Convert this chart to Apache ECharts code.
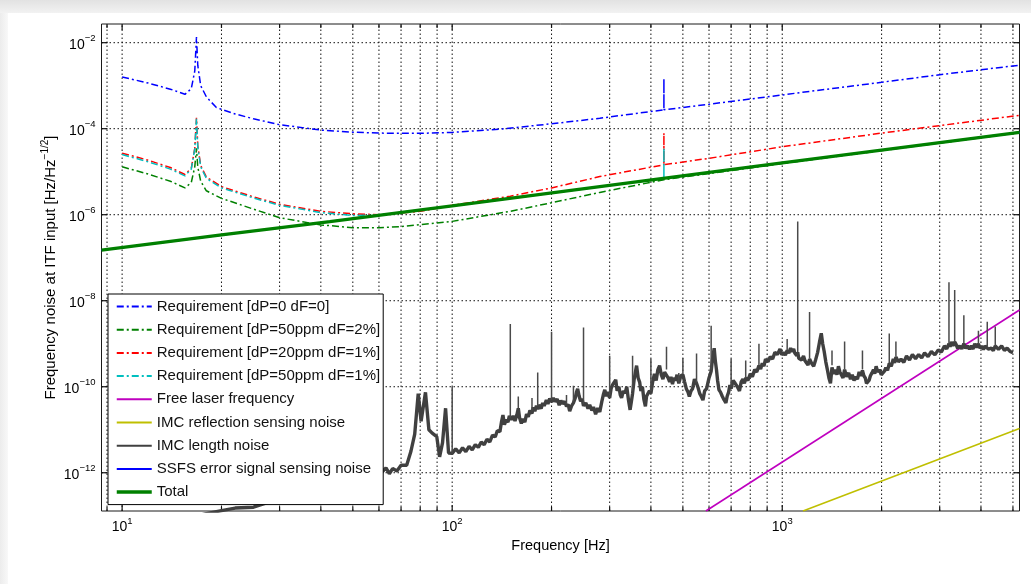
<!DOCTYPE html>
<html><head><meta charset="utf-8">
<script src="https://cdn.jsdelivr.net/npm/echarts@6/dist/echarts.min.js"></script>
<style>html,body{margin:0;padding:0;background:#fff}#c{width:1031px;height:584px}</style>
</head><body><div id="c"></div>
<script>
// ---------- data (frequency [Hz], noise [Hz/Hz^-1/2]) ----------
const xTickValues = [9,10,20,30,40,50,60,70,80,90,100,200,300,400,500,600,700,800,900,1000,2000,3000,4000,5000];
const xMajorTicks = [10,100,1000];
const yTickValues = [1e-12,1e-10,1e-8,1e-6,1e-4,1e-2];

const reqA = [[10,1.6e-3],[12,1.15e-3],[14,8.3e-4],[15.5,6.3e-4],[16.2,8.5e-4],[16.6,2.2e-3],[16.8,1.35e-2],[16.95,3e-3],[17.3,1.0e-3],[18,5.5e-4],[19.3,3.1e-4],[22,2.2e-4],[25,1.7e-4],[30,1.24e-4],[40,9.3e-5],[50,8.3e-5],[60,7.9e-5],[80,7.8e-5],[100,8.2e-5],[140,9.8e-5],[200,1.3e-4],[280,1.75e-4],[438,2.75e-4],[438,1.45e-3],[438,2.75e-4],[600,3.7e-4],[1000,6.1e-4],[2000,1.2e-3],[3000,1.8e-3],[5234,3.0e-3]];
const reqB = [[10,1.3e-5],[12,8.8e-6],[14,6e-6],[15.5,4.2e-6],[16.2,5.6e-6],[16.6,1.3e-5],[16.8,3.5e-5],[16.95,1.3e-5],[17.3,6e-6],[18,3.6e-6],[20,2.4e-6],[25,1.35e-6],[30,8.5e-7],[40,5.8e-7],[50,5e-7],[60,5e-7],[70,5.3e-7],[100,7e-7],[150,1.2e-6],[200,1.9e-6],[280,3.3e-6],[438,6.5e-6],[1000,1.55e-5],[5234,8.1e-5]];
const reqC = [[10,2.7e-5],[12,1.85e-5],[14,1.25e-5],[15.5,8.6e-6],[16.2,1.2e-5],[16.6,3.5e-5],[16.8,1.8e-4],[16.95,4e-5],[17.3,1.4e-5],[18,7.5e-6],[20,4.5e-6],[25,2.6e-6],[30,1.75e-6],[40,1.2e-6],[50,1.05e-6],[60,1.0e-6],[80,1.2e-6],[100,1.65e-6],[150,2.7e-6],[200,4.2e-6],[280,7.7e-6],[438,1.45e-5],[438,7.9e-5],[438,1.45e-5],[600,2.05e-5],[1000,3.8e-5],[2000,7.9e-5],[5234,2.05e-4]];
const reqD = [[10,2.5e-5],[12,1.7e-5],[14,1.15e-5],[15.5,8e-6],[16.2,1.15e-5],[16.6,3.4e-5],[16.8,1.7e-4],[16.95,3.8e-5],[17.3,1.3e-5],[18,7e-6],[20,4.2e-6],[25,2.45e-6],[30,1.65e-6],[40,1.12e-6],[50,9.6e-7],[60,9.8e-7],[80,1.3e-6],[100,1.6e-6],[200,3.2e-6],[438,7e-6],[438,3.6e-5],[438,7e-6],[1000,1.6e-5],[5234,8.3e-5]];
const freeLaser = [[587,1.29e-13],[5234,6.1e-9]];
const imcReflection = [[1156,1.29e-13],[5234,1.07e-11]];
const imcLength = [[8.66,5.01e-14],[12,6.31e-14],[15,7.94e-14],[18,1.12e-13],[20,1.32e-13],[22,1.51e-13],[25,1.58e-13],[30,2.51e-13],[35,3.55e-13],[40,4.47e-13],[45,5.01e-13],[50,6.31e-13],[55,7.94e-13],[58,8.32e-13],[61,1.0e-12],[63,1.3e-12],[64.5,9.5e-13],[66,1.25e-12],[68,1.1e-12],[70,1.5e-12],[72.8,1.5e-12],[75,3.16e-12],[77,7.94e-12],[78.9,6.92e-11],[80.5,1.58e-11],[83,7.41e-11],[85,1.0e-11],[87,8.32e-12],[89.8,6.92e-12],[91.6,2.34e-12],[93.5,5.01e-12],[95.5,3.16e-11],[97.5,2.88e-12],
[100,2.82e-12],[102.5,3.6e-12],[105,2.9e-12],[107.5,3.8e-12],[110,3.1e-12],[112.5,4.1e-12],[115,3.4e-12],[117.5,4.5e-12],[120,3.9e-12],[122.5,5.2e-12],[125,4.5e-12],[127.5,6e-12],[130,5.2e-12],[132.5,7.5e-12],[135,6.8e-12],[137,9.5e-12],[139.5,9e-12],[141,1.5e-11],[142.5,2.19e-11],[144,1.3e-11],[145.5,1.7e-11],[147.6,1.5e-11],[149,2.1e-11],[151,1.7e-11],[153,2.1e-11],[155,1.6e-11],[157,2.2e-11],[158.6,3.16e-11],[160,1.9e-11],[162,1.4e-11],[164,1.8e-11],[166,1.5e-11],[168,2.3e-11],[170,2.0e-11],[172,2.8e-11],[174.5,2.4e-11],[176,3.3e-11],[178,2.7e-11],[180,3.6e-11],[181.6,3.0e-11],[183,3.8e-11],[186,3.1e-11],[188,4.2e-11],[190,3.6e-11],[192.9,4.9e-11],[195,4.0e-11],[197.5,5.3e-11],[200,4.4e-11],[202.5,5.5e-11],[205,4.5e-11],[208,5.2e-11],[211,3.7e-11],[213.5,4.8e-11],[216,4.0e-11],[219,4.6e-11],[222,3.5e-11],[224.5,3.9e-11],[227,2.7e-11],[230,3.6e-11],[233,4.2e-11],[236,5.5e-11],[238,7.5e-11],[240,8.9e-11],[242.5,6e-11],[245,4.6e-11],[247.5,5.2e-11],[250,3.6e-11],[254,4.2e-11],[258,3.1e-11],[261,3.8e-11],[265,2.8e-11],[268,3.4e-11],[272,2.3e-11],[276,3.2e-11],[280,2.6e-11],[284,4.5e-11],[287,6.5e-11],[290,8.5e-11],[293,6e-11],[296,7.5e-11],[300,5.5e-11],[303,9e-11],[306,1.1e-10],[310,1.2e-10],[313,1.45e-10],[316,8e-11],[320,1.0e-10],[323,6.5e-11],[326,5.5e-11],[330,8e-11],[334,7e-11],[338,1.0e-10],[342,5e-11],[346,2.9e-11],[349,4.5e-11],[352,7e-11],[356,1.5e-10],[359,2.2e-10],[362,3.1e-10],[366,1.6e-10],[370,1.26e-10],[373,8e-11],[377,1.0e-10],[381,5e-11],[385,3.5e-11],[388,6e-11],[392,5.5e-11],[396,8e-11],[400,7e-11],[405,1.3e-10],[410,2.0e-10],[415,1.4e-10],[420,2.5e-10],[425,3.1e-10],[430,1.9e-10],[435,1.5e-10],[440,2.2e-10],[446,2.4e-10],[451,1.6e-10],[456,1.3e-10],[460,1.7e-10],[465,1.15e-10],[470,1.6e-10],[475,1.4e-10],[480,1.9e-10],[486,1.2e-10],[493,1.8e-10],[500,1.9e-10],[506,1.3e-10],[512,9e-11],[518,7.5e-11],[523,5.9e-11],[529,8e-11],[535,9e-11],[542,1.5e-10],[550,1.2e-10],[556,9.5e-11],[562,7e-11],[568,6e-11],[575,4.9e-11],[582,8e-11],[590,9e-11],[600,1.6e-10],[609,2.3e-10],[615,4.5e-10],[622,7.9e-10],[627,4e-10],[632,2.5e-10],[637,1.4e-10],[643,8.5e-11],[650,7.5e-11],[658,6e-11],[666,5e-11],[675,4.2e-11],[681,6e-11],[688,7.5e-11],[694,1.1e-10],[700,9e-11],[710,1.4e-10],[720,1.2e-10],[731,1.0e-10],[742,8e-11],[751,1.3e-10],[760,1.5e-10],[768,1.2e-10],[775,1.6e-10],[787,1.4e-10],[800,2.0e-10],[812,1.7e-10],[825,2.5e-10],[837,2.2e-10],[850,3.1e-10],[860,2.6e-10],[870,3.5e-10],[880,3.0e-10],[890,4.4e-10],[905,3.8e-10],[920,5.0e-10],[935,4.4e-10],[950,6.3e-10],[967,5.6e-10],[985,7.6e-10],[997,5.5e-10],[1010,6.3e-10],[1022,5.4e-10],[1035,7.0e-10],[1047,6.0e-10],[1060,7.9e-10],[1071,6.5e-10],[1083,7.6e-10],[1092,6.0e-10],[1100,6.3e-10],[1107,5.3e-10],[1114,6.3e-10],[1122,4.6e-10],[1130,5.0e-10],[1145,4.2e-10],[1160,5.2e-10],[1172,4.0e-10],[1185,3.9e-10],[1197,3.2e-10],[1210,4.4e-10],[1227,3.5e-10],[1245,3.0e-10],[1262,4.2e-10],[1280,6.3e-10],[1297,1.1e-9],[1313,1.75e-9],[1326,1.0e-9],[1340,6.6e-10],[1355,3.8e-10],[1370,2.5e-10],[1385,1.6e-10],[1400,1.2e-10],[1415,2.8e-10],[1432,2.0e-10],[1450,2.5e-10],[1465,1.9e-10],[1480,3.0e-10],[1495,2.2e-10],[1510,2.0e-10],[1528,1.6e-10],[1545,2.5e-10],[1567,1.7e-10],[1590,2.1e-10],[1610,1.5e-10],[1630,1.9e-10],[1650,1.4e-10],[1670,1.7e-10],[1690,1.5e-10],[1710,2.2e-10],[1730,1.8e-10],[1750,2.4e-10],[1767,1.8e-10],[1785,1.6e-10],[1800,1.2e-10],[1815,1.25e-10],[1832,1.4e-10],[1850,1.8e-10],[1870,2.1e-10],[1890,2.5e-10],[1907,2.0e-10],[1925,3.0e-10],[1947,2.2e-10],[1970,2.5e-10],[1995,1.9e-10],[2020,1.75e-10],[2040,2.3e-10],[2060,2.8e-10],[2085,2.4e-10],[2110,3.5e-10],[2140,3.0e-10],[2170,4.4e-10],[2190,3.6e-10],[2210,4.9e-10],[2250,3.8e-10],[2290,4.4e-10],[2335,3.7e-10],[2380,5.2e-10],[2430,4.2e-10],[2480,5.6e-10],[2535,4.5e-10],[2590,5.6e-10],[2645,4.7e-10],[2700,6.1e-10],[2765,5.0e-10],[2830,6.6e-10],[2900,5.5e-10],[2970,7.2e-10],[3035,6.4e-10],[3100,8.9e-10],[3150,7.6e-10],[3200,1.0e-9],[3225,8.5e-10],[3250,1.1e-9],[3290,9.0e-10],[3330,1.1e-9],[3360,9.8e-10],[3400,7.8e-10],[3450,8.9e-10],[3500,7.6e-10],[3550,1.0e-9],[3595,7.8e-10],[3640,8.9e-10],[3690,7.5e-10],[3740,8.9e-10],[3785,7.5e-10],[3830,1.0e-9],[3880,8.2e-10],[3930,1.0e-9],[3975,7.9e-10],[4020,8.9e-10],[4070,7.4e-10],[4120,8.9e-10],[4210,7.5e-10],[4300,7.9e-10],[4360,6.9e-10],[4420,8.9e-10],[4520,7.4e-10],[4620,8.9e-10],[4710,7.0e-10],[4800,7.9e-10],[4900,6.6e-10],[5000,6.2e-10]];
// narrow lines of the IMC length noise: [frequency, floor, peak]
const imcLines = [[100,2.82e-12,1.0e-10],[150,1.91e-11,2.88e-9],[158.6,3.16e-11,5.89e-11],[174.5,2.82e-11,5.5e-11],[181.6,3.55e-11,2.14e-10],[200,5.01e-11,1.91e-9],[222,3.98e-11,6.46e-11],[233,4.47e-11,1.05e-10],[250,3.98e-11,2.4e-9],[300,6.31e-11,5.25e-10],[352,7.94e-11,5.25e-10],[400,7.94e-11,4.47e-10],[446,2.51e-10,8.51e-10],[486,1.26e-10,2.09e-10],[500,2.0e-10,4.68e-10],[550,1.26e-10,5.89e-10],[609,2.51e-10,2.63e-9],[700,1.0e-10,4.47e-10],[775,1.58e-10,4.07e-10],[850,3.16e-10,1.0e-9],[1035,7.08e-10,1.29e-9],[1114,6.31e-10,6.92e-7],[1210,4.47e-10,5.5e-9],[1415,3.16e-10,6.92e-10],[1545,2.51e-10,1.12e-9],[1750,2.51e-10,6.92e-10],[2110,3.55e-10,1.74e-9],[2210,5.01e-10,1.12e-9],[3200,1.0e-9,2.69e-8],[3330,1.12e-9,1.78e-8],[3550,1.0e-9,4.57e-9],[3930,1.0e-9,2.0e-9],[4180,8.91e-10,3.24e-9],[4420,8.91e-10,2.51e-9]];
const ssfs = [[8.66,1.5e-7],[100,1.6e-6],[1000,1.6e-5],[5234,8.2e-5]];
const total = [[8.66,1.5e-7],[20,3.4e-7],[42.6,6.9e-7],[100,1.6e-6],[280,4.5e-6],[1000,1.6e-5],[5234,8.2e-5]];
const xRange = [8.66, 5234];
const yRange = [1.29e-13, 2.72e-2];

// ---------- build ----------
const L = Math.log10;
const xMin = L(xRange[0]), xMax = L(xRange[1]), yMin = L(yRange[0]), yMax = L(yRange[1]);
const toLog = arr => arr.map(p => [L(p[0]), L(p[1])]);
const lineData = [];
imcLines.forEach(s => { lineData.push([L(s[0]), L(s[1])], [L(s[0]), L(s[2])], [L(s[0]), L(s[1])], ['-', '-']); });
const FONT = 'Liberation Sans, Arial, Helvetica, sans-serif';
const DD = [7, 3, 2, 3];
const isInt = v => Math.abs(v - Math.round(v)) < 1e-6;
const powLabel = v => isInt(v) ? '{b|10}{s|' + String(Math.round(v)).replace('-', '\u2212') + '}' : '';
const labelRich = {
  b: {fontSize: 14, fontFamily: FONT, color: '#000', verticalAlign: 'bottom'},
  s: {fontSize: 9.5, fontFamily: FONT, color: '#000', verticalAlign: 'bottom', padding: [0, 0, 8, 0]}
};

const chart = echarts.init(document.getElementById('c'), null, {renderer: 'canvas'});
const names = ['Requirement [dP=0 dF=0]','Requirement [dP=50ppm dF=2%]','Requirement [dP=20ppm dF=1%]','Requirement [dP=50ppm dF=1%]','Free laser frequency','IMC reflection sensing noise','IMC length noise','SSFS error signal sensing noise','Total'];
const mk = (name, data, color, width, type, z) => ({
  name, type: 'line', data: toLog(data), symbol: 'none', showSymbol: false, z: z || 3,
  lineStyle: {color, width, type: type || 'solid'}, itemStyle: {color}, animation: false, silent: true
});

chart.setOption({
  animation: false,
  grid: {left: 101.5, right: 11.5, top: 24, bottom: 73, show: true, borderColor: '#1a1a1a', borderWidth: 1, backgroundColor: 'rgba(0,0,0,0)'},
  graphic: [
    {type: 'rect', z: -10, silent: true, shape: {x: 0, y: 0, width: 1031, height: 13},
     style: {fill: new echarts.graphic.LinearGradient(0, 0, 0, 1, [{offset: 0, color: '#e2e2e2'}, {offset: 1, color: '#f2f2f2'}])}},
    {type: 'rect', z: -10, silent: true, shape: {x: 0, y: 13, width: 8, height: 571},
     style: {fill: new echarts.graphic.LinearGradient(0, 0, 1, 0, [{offset: 0, color: '#ececec'}, {offset: 1, color: '#f8f8f8'}])}}
  ],
  xAxis: {
    type: 'value', min: xMin, max: xMax, splitNumber: 3,
    axisLine: {show: false}, axisTick: {show: false}, splitLine: {show: false},
    axisLabel: {formatter: powLabel, rich: labelRich, margin: 5, showMinLabel: false, showMaxLabel: false},
    name: 'Frequency [Hz]', nameLocation: 'middle', nameGap: 27, nameMoveOverlap: false,
    nameTextStyle: {fontFamily: FONT, fontSize: 14.5, color: '#000'}
  },
  yAxis: {
    type: 'value', min: yMin, max: yMax, splitNumber: 5,
    axisLine: {show: false}, axisTick: {show: false}, splitLine: {show: false},
    axisLabel: {formatter: powLabel, rich: labelRich, margin: 6, showMinLabel: false, showMaxLabel: false},
    name: '{n|Frequency noise at ITF input [Hz/Hz}{s|\u22121/2}{n|]}', nameLocation: 'middle', nameGap: 43, nameMoveOverlap: false,
    nameTextStyle: {rich: {
      n: {fontFamily: FONT, fontSize: 15, color: '#000', verticalAlign: 'bottom'},
      s: {fontFamily: FONT, fontSize: 10, color: '#000', verticalAlign: 'bottom', padding: [0, 0, 8, 0]}
    }}
  },
  legend: {
    orient: 'vertical', left: 108, top: 294, itemWidth: 35, itemHeight: 14, itemGap: 8.2,
    padding: [5, 3, 5, 7], backgroundColor: '#fff', borderColor: '#000', borderWidth: 1, borderRadius: 0,
    textStyle: {fontFamily: FONT, fontSize: 15, color: '#111'},
    itemStyle: {opacity: 0}, selectedMode: false, z: 10,
    data: names.map(n => ({name: n, lineStyle: {width: n === 'Total' ? 3.5 : 2}}))
  },
  series: [
    {
      type: 'custom', silent: true, z: 1, clip: false, animation: false,
      data: xTickValues.map(v => [L(v), xMajorTicks.indexOf(v) >= 0 ? 1 : 0]),
      renderItem: (params, api) => {
        const x = api.value(0), major = api.value(1) === 1;
        const p0 = api.coord([x, yMin]), p1 = api.coord([x, yMax]);
        const tl = major ? 6 : 4;
        return {type: 'group', children: [
          {type: 'line', shape: {x1: p0[0], y1: p0[1], x2: p1[0], y2: p1[1]}, style: {stroke: '#111', lineWidth: 1, lineDash: [1.5, 2.5]}},
          {type: 'line', shape: {x1: p0[0], y1: p0[1], x2: p0[0], y2: p0[1] - tl}, style: {stroke: '#111', lineWidth: 1.2}},
          {type: 'line', shape: {x1: p1[0], y1: p1[1], x2: p1[0], y2: p1[1] + tl}, style: {stroke: '#111', lineWidth: 1.2}}
        ]};
      }
    },
    {
      type: 'custom', silent: true, z: 1, clip: false, animation: false,
      data: yTickValues.map(v => [xMin, L(v)]),
      renderItem: (params, api) => {
        const y = api.value(1);
        const p0 = api.coord([xMin, y]), p1 = api.coord([xMax, y]);
        return {type: 'group', children: [
          {type: 'line', shape: {x1: p0[0], y1: p0[1], x2: p1[0], y2: p1[1]}, style: {stroke: '#111', lineWidth: 1, lineDash: [1.5, 2.5]}},
          {type: 'line', shape: {x1: p0[0], y1: p0[1], x2: p0[0] + 6, y2: p0[1]}, style: {stroke: '#111', lineWidth: 1.2}},
          {type: 'line', shape: {x1: p1[0], y1: p1[1], x2: p1[0] - 6, y2: p1[1]}, style: {stroke: '#111', lineWidth: 1.2}}
        ]};
      }
    },
    mk(names[0], reqA, '#0000ff', 1.5, DD),
    mk(names[1], reqB, '#008000', 1.5, DD),
    mk(names[2], reqC, '#ff0000', 1.5, DD),
    mk(names[3], reqD, '#00bfbf', 1.5, DD),
    mk(names[4], freeLaser, '#bf00bf', 1.6),
    mk(names[5], imcReflection, '#bfbf00', 1.6),
    mk(names[6], imcLength, '#404040', 3.4),
    Object.assign(mk(names[6], [], '#404040', 1.5), {data: lineData, connectNulls: false, lineStyle: {color: '#4a4a4a', width: 1.5}}),
    mk(names[7], ssfs, '#0000ff', 1.5),
    mk(names[8], total, '#008000', 3.2, 'solid', 4)
  ]
});
</script></body></html>
